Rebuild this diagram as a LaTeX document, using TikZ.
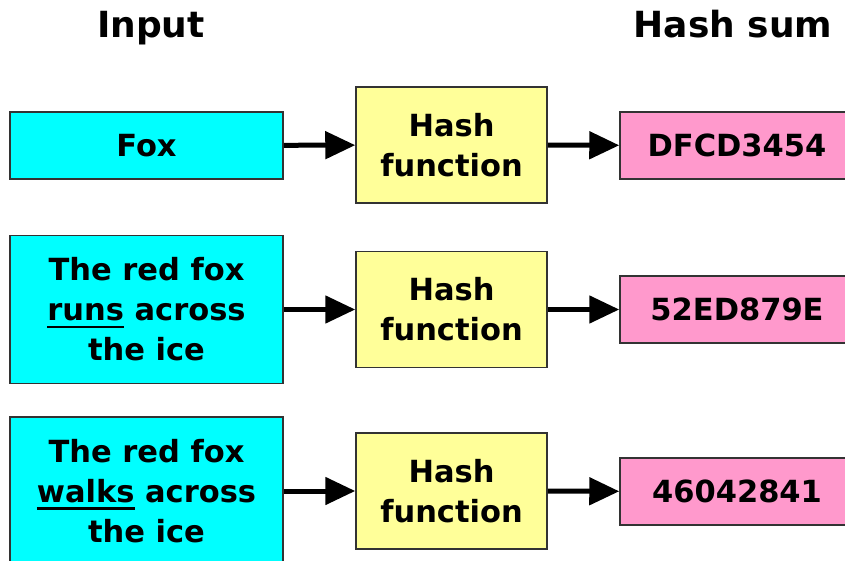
\documentclass[tikz,border=0pt]{standalone}
\usepackage{fontspec}
\setmainfont{DejaVu Sans}
\usepackage{tikz}
\usetikzlibrary{positioning,arrows.meta}

\definecolor{inputcol}{RGB}{0,255,255}
\definecolor{hashcol}{RGB}{255,255,153}
\definecolor{sumcol}{RGB}{255,153,204}
\newcommand{\undl}[1]{\leavevmode\setbox0=\hbox{#1}\rlap{\rule[-7.5pt]{\wd0}{2.5pt}}\box0\relax}

\tikzset{
  box/.style={draw=black!80, line width=1.5pt, inner sep=0pt, align=center,
    font=\bfseries\fontsize{30.5}{40}\selectfont},
  inbox/.style={box, fill=inputcol, minimum width=273pt},
  hashbox/.style={box, fill=hashcol, minimum width=191pt, minimum height=116pt},
  sumbox/.style={box, fill=sumcol, minimum width=234pt, minimum height=67pt},
  title/.style={anchor=base, font=\bfseries\fontsize{36}{40}\selectfont},
  arr/.style={line width=5pt, -{Triangle[length=30pt,width=27pt]}}
}

\begin{document}
\begin{tikzpicture}[x=1pt, y=-1pt]
\useasboundingbox (0,0) rectangle (845,561);
\clip (0,0) rectangle (845,561);
\node[title] (tin) at (151,38) {Input};
\node[title] (tsum) at (733,38) {Hash sum};

\node[inbox, minimum height=67pt] (in1) at (146.5,145.5) {Fox};
\node[inbox, minimum height=148pt] (in2) at (146.5,309.5) {The red fox\\\undl{runs} across\\the ice};
\node[inbox, minimum height=148pt] (in3) at (146.5,491) {The red fox\\\undl{walks} across\\the ice};

\node[hashbox] (hf1) at (451.5,145) {Hash\\function};
\node[hashbox] (hf2) at (451.5,309.5) {Hash\\function};
\node[hashbox] (hf3) at (451.5,491) {Hash\\function};

\node[sumbox] (hs1) at (737,145.5) {DFCD3454};
\node[sumbox] (hs2) at (737,309.5) {52ED879E};
\node[sumbox] (hs3) at (737,491.5) {46042841};

\draw[arr] (in1) -- (hf1);
\draw[arr] (in2) -- (hf2);
\draw[arr] (in3) -- (hf3);
\draw[arr] (hf1) -- (hs1);
\draw[arr] (hf2) -- (hs2);
\draw[arr] (hf3) -- (hs3);
\end{tikzpicture}
\end{document}
